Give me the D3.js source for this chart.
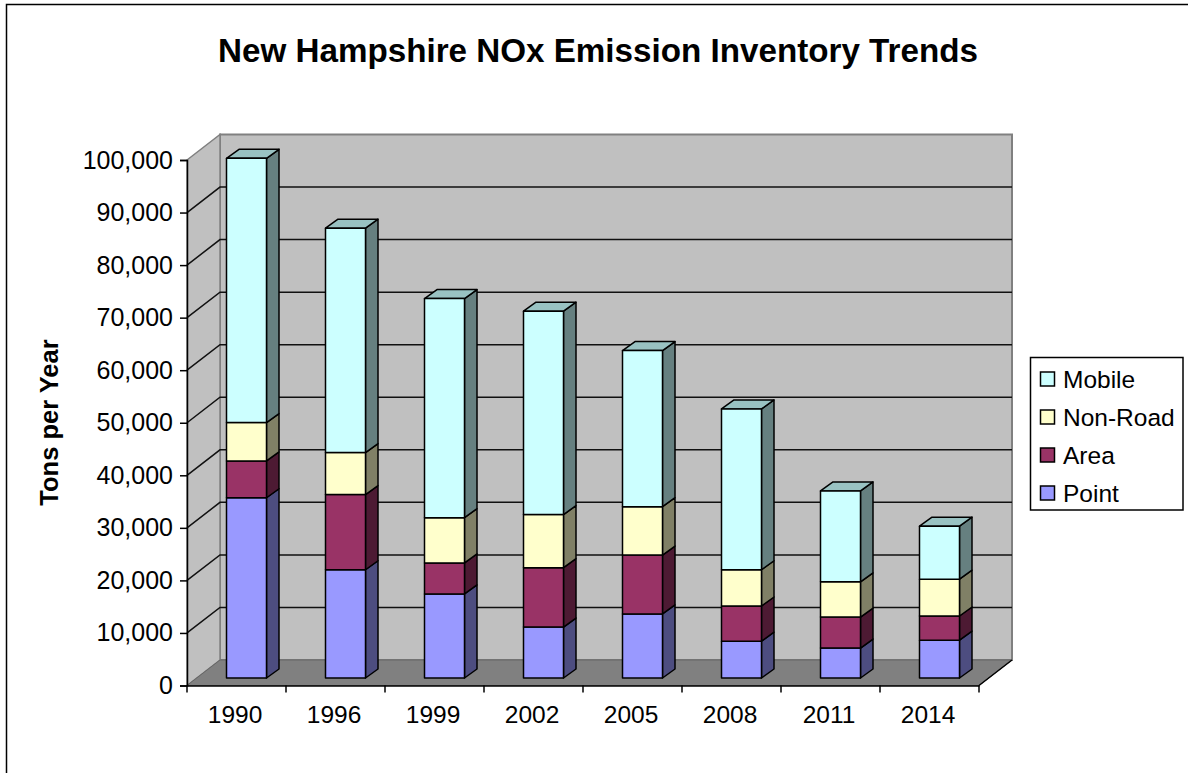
<!DOCTYPE html>
<html><head><meta charset="utf-8">
<script src="https://cdn.jsdelivr.net/npm/d3@7/dist/d3.min.js"></script>
<style>html,body{margin:0;padding:0;background:#fff}svg{display:block}text{font-family:"Liberation Sans",Arial,sans-serif;fill:#000}</style>
</head><body><svg id="c" width="1188" height="773"></svg>
<script>
const years=["1990","1996","1999","2002","2005","2008","2011","2014"];
const point=[34300,20600,16000,9700,12200,7000,5700,7200];
const area=[7000,14300,5900,11300,11200,6700,5900,4600];
const nonRoad=[7300,8000,8600,10100,9200,6900,6700,7000];
const mobile=[50300,42700,41700,38700,29700,30600,17300,10100];
const ticks=[0,10000,20000,30000,40000,50000,60000,70000,80000,90000,100000];
const seriesNames=["Point","Area","Non-Road","Mobile"];
const seriesValues=[point,area,nonRoad,mobile];
const faceColors=["#9999ff","#993366","#ffffcc","#ccffff"];
const sideColors=["#4d4d80","#4d1a33","#808066","#668080"];
const topColors=["#7373bf","#73264d","#bfbf99","#99c2c2"];
const legendOrder=[3,2,1,0];

const svg=d3.select("#c");
const L=187,R=979,T=160,B=685.5,DX=33,DY=-25.5;
const x=d3.scaleBand().domain(years).range([L,R]);
const y=d3.scaleLinear().domain([0,100000]).range([B,T]);
const barW=40, bx=10, by=-7.5, dx=12.5, dy=-9;
const pts=a=>a.map(p=>p.join(",")).join(" ");
const FONT='"Liberation Sans",Arial,sans-serif';

svg.append("rect").attr("x",6.5).attr("y",4.5).attr("width",1300).attr("height",900).attr("fill","#fff").attr("stroke","#000").attr("stroke-width",1.5);

svg.append("text").attr("x",598).attr("y",62).attr("text-anchor","middle").attr("font-weight","bold").attr("font-size",33.2).text("New Hampshire NOx Emission Inventory Trends");

// walls
svg.append("polygon").attr("points",pts([[L+DX,T+DY],[R+DX,T+DY],[R+DX,B+DY],[L+DX,B+DY]])).attr("fill","#c0c0c0").attr("stroke","#808080").attr("stroke-width",2);
svg.append("polygon").attr("points",pts([[L,T],[L+DX,T+DY],[L+DX,B+DY],[L,B]])).attr("fill","#c0c0c0").attr("stroke","#808080").attr("stroke-width",1.5);
svg.append("polygon").attr("points",pts([[L,B],[R,B],[R+DX,B+DY],[L+DX,B+DY]])).attr("fill","#808080").attr("stroke","#666").attr("stroke-width",1);
svg.append("line").attr("x1",R).attr("y1",B).attr("x2",R+DX).attr("y2",B+DY).attr("stroke","#000").attr("stroke-width",1.5);

// gridlines
ticks.slice(1,-1).forEach(t=>{
  const v=y(t);
  svg.append("polyline").attr("points",pts([[L,v],[L+DX,v+DY],[R+DX,v+DY]])).attr("fill","none").attr("stroke","#111").attr("stroke-width",1.5);
});

// axes
const yAxis=d3.axisLeft(y).tickValues(ticks).tickSize(7).tickPadding(7).tickFormat(d3.format(","));
const gy=svg.append("g").attr("transform",`translate(${L},0)`).call(yAxis);
gy.selectAll("text").attr("font-size",25).style("font-family",FONT).attr("fill","#000");
const xAxis=d3.axisBottom(x).tickSize(0).tickPadding(20);
const gx=svg.append("g").attr("transform",`translate(0,${B})`).call(xAxis);
gx.selectAll("text").attr("font-size",24.5).attr("dx",-1.5).style("font-family",FONT).attr("fill","#000");
x.domain().concat([null]).forEach((d,i)=>{
  const p=L+i*x.step();
  gx.append("line").attr("x1",p).attr("x2",p).attr("y1",0).attr("y2",7).attr("stroke","#000").attr("stroke-width",1.5);
});
gx.selectAll(".domain,.tick line").attr("stroke","#000").attr("stroke-width",1.5);
gy.selectAll(".domain,.tick line").attr("stroke","#000").attr("stroke-width",1.5);

// bars
const yb=v=>y(v)+by;
years.forEach((yr,i)=>{
  const x0=x(yr)+(x.step()-barW)/2+bx, x1=x0+barW;
  let cum=0;
  seriesValues.forEach((vals,s)=>{
    const y0=yb(cum), y1=yb(cum+vals[i]);
    cum+=vals[i];
    const g=svg.append("g").attr("stroke","#000").attr("stroke-width",1.5).attr("stroke-linejoin","round");
    g.append("polygon").attr("points",pts([[x1,y1],[x1+dx,y1+dy],[x1+dx,y0+dy],[x1,y0]])).attr("fill",sideColors[s]);
    if(s===seriesValues.length-1) g.append("polygon").attr("points",pts([[x0,y1],[x0+dx,y1+dy],[x1+dx,y1+dy],[x1,y1]])).attr("fill",topColors[s]);
    g.append("rect").attr("x",x0).attr("y",y1).attr("width",barW).attr("height",y0-y1).attr("fill",faceColors[s]);
  });
});

// y title
svg.append("text").attr("transform","translate(58,422.5) rotate(-90)").attr("text-anchor","middle").attr("font-weight","bold").attr("font-size",25.5).text("Tons per Year");

// legend
svg.append("rect").attr("x",1030.5).attr("y",357.5).attr("width",152.5).attr("height",152.5).attr("fill","#fff").attr("stroke","#000").attr("stroke-width",1.5);
legendOrder.forEach((s,i)=>{
  const cy=379+i*38;
  svg.append("rect").attr("x",1040.5).attr("y",cy-7).attr("width",14).attr("height",14).attr("fill",faceColors[s]).attr("stroke","#000").attr("stroke-width",1.5);
  svg.append("text").attr("x",1063).attr("y",cy+9).attr("font-size",24.5).text(seriesNames[s]);
});
</script></body></html>
